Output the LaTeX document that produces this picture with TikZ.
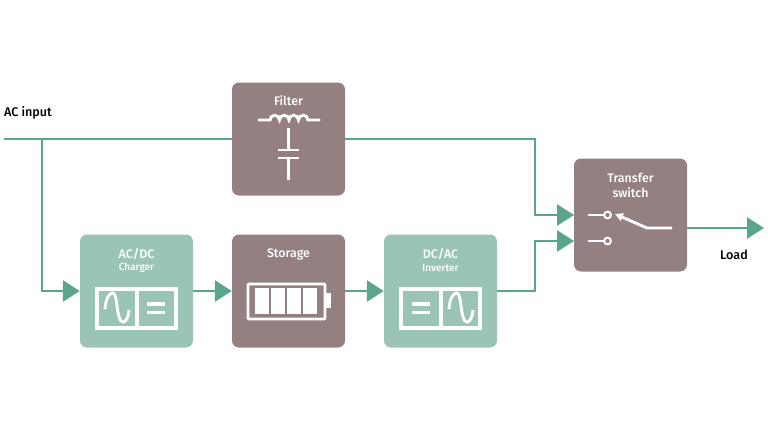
\documentclass[tikz,border=0pt]{standalone}
\usepackage{fontspec}
\setmainfont{Fira Sans}
\newfontfamily\medfont{Fira Sans Medium}
\usetikzlibrary{arrows.meta}
\definecolor{boxgrey}{HTML}{947F81}
\definecolor{boxgreen}{HTML}{9AC4B6}
\definecolor{wiregreen}{HTML}{5BA58C}
\tikzset{
  greybox/.style={shape=rectangle,fill=boxgrey,rounded corners=7pt,minimum width=113pt,minimum height=113pt,inner sep=0pt},
  greenbox/.style={greybox,fill=boxgreen},
  wire/.style={draw=wiregreen,line width=2.9pt},
  feed/.style={wire,-{Triangle[length=17pt,width=21pt]}},
  icon/.style={draw=white,line width=2.9pt},
  thick icon/.style={draw=white,line width=4.4pt},
  title/.style={text=white,font=\medfont\fontsize{12.4}{14}\selectfont,inner sep=0pt},
  subtitle/.style={text=white,font=\medfont\fontsize{10}{12}\selectfont,inner sep=0pt},
  outside/.style={text=black,font=\medfont\fontsize{12.6}{14}\selectfont,inner sep=0pt}
}
\begin{document}
\begin{tikzpicture}[x=1pt,y=-1pt]
\useasboundingbox (0,0) rectangle (768,432);
% boxes
\node[greybox] (F) at (288.5,139) {};
\node[greenbox] (C) at (136.5,291) {};
\node[greybox] (S) at (288.5,291) {};
\node[greenbox] (I) at (440.5,291) {};
\node[greybox] (T) at (630.5,215) {};
% labels
\node[outside] (Ltext) at (28,113) {AC input};
\node[outside] (Otext) at (734,255) {Load};
\node[title] (Ftext) at (288.5,101) {Filter};
\node[title] (Ctext) at (136.5,254) {AC/DC};
\node[subtitle] (Csub) at (136.5,268) {Charger};
\node[title] (Stext) at (288.5,254) {Storage};
\node[title] (Itext) at (440.5,254) {DC/AC};
\node[subtitle] (Isub) at (440.5,268) {Inverter};
\node[title] (Ttext) at (630.5,178) {Transfer};
\node[title] (Ttext2) at (630.5,193) {switch};
% connectors
\coordinate (In) at (4,139);
\coordinate (J) at (42,139);
\coordinate (T1) at (574,215);
\coordinate (T2) at (574,241);
\coordinate (TO) at (687,228);
\coordinate (Out) at (764,228);
\coordinate (B1) at (535,139);
\coordinate (B2) at (535,291);
\path [wire] (In) edge (F.west);
\draw [feed] (J) |- (C.west);
\draw [feed] (F.east) -- (B1) |- (T1);
\draw [feed] (C.east) -- (S.west);
\draw [feed] (S.east) -- (I.west);
\draw [feed] (I.east) -- (B2) |- (T2);
\draw [feed] (TO) -- (Out);
% filter icon
\draw [icon] (258,120) -- (270,120) arc[start angle=180,end angle=360,radius=4.75] arc[start angle=180,end angle=360,radius=4.75] arc[start angle=180,end angle=360,radius=4.75] arc[start angle=180,end angle=360,radius=4.75] -- (320,120);
\draw [icon] (288.5,128) -- (288.5,150);
\draw [icon] (278,150) -- (299,150);
\draw [icon] (278,158) -- (299,158);
\draw [icon] (288.5,158) -- (288.5,180);
% charger icon
\draw [thick icon] (97,289) rectangle (176,328);
\draw [thick icon] (136.7,289) -- (136.7,328);
\draw [icon] (105,309) .. controls (106,298) and (109,293) .. (113,293) .. controls (118,293) and (116,322) .. (123,322) .. controls (126,322) and (128,318) .. (129,310);
\draw [icon,line width=3.3pt] (147.3,304) -- (165,304);
\draw [icon,line width=3.3pt] (147.3,312.5) -- (165,312.5);
% battery icon
\draw [icon,rounded corners=1pt] (248,284) rectangle (325,319);
\fill [white] (325,293) rectangle (331,308);
\foreach \x in {255,271,287,303} {
  \fill [white] (\x,288) rectangle (\x+14,314);
}
% inverter icon
\draw [thick icon] (401,289) rectangle (480,328);
\draw [thick icon] (440.8,289) -- (440.8,328);
\draw [icon] (449,309) .. controls (450,298) and (453,293) .. (457,293) .. controls (462,293) and (460,322) .. (467,322) .. controls (470,322) and (472,318) .. (473,310);
\draw [icon,line width=3.3pt] (412,304) -- (430,304);
\draw [icon,line width=3.3pt] (412,312.5) -- (430,312.5);
% switch icon
\draw [icon] (588,215) -- (604,215);
\draw [icon] (588,241) -- (604,241);
\draw [icon,line width=2pt] (607.5,215) circle (3.4);
\draw [icon,line width=2pt] (607.5,241) circle (3.4);
\draw [icon,-{Triangle[length=8pt,width=8pt]}] (672,228) -- (647,228) -- (615,214);
\end{tikzpicture}
\end{document}
